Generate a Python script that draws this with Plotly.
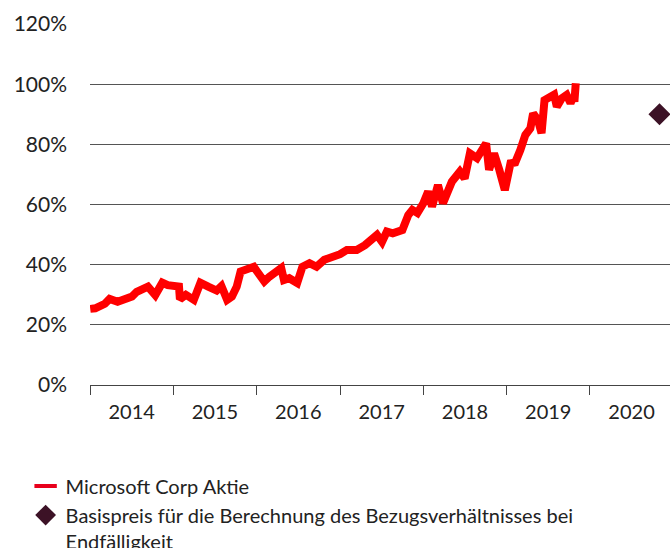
import plotly.graph_objects as go

# Microsoft Corp share price, % of base price
dates = [
    "2014-01-02", "2014-01-24", "2014-03-07", "2014-03-28", "2014-05-02", "2014-06-01",
    "2014-07-04", "2014-07-25", "2014-08-15", "2014-09-12", "2014-10-14", "2014-11-14",
    "2014-12-08", "2015-01-01", "2015-01-26", "2015-01-30", "2015-02-25", "2015-04-01",
    "2015-04-30", "2015-06-03", "2015-07-10", "2015-07-31", "2015-08-25", "2015-09-15",
    "2015-10-06", "2015-10-23", "2015-11-17", "2015-12-20", "2016-01-01", "2016-01-13",
    "2016-02-04", "2016-02-26", "2016-03-18", "2016-04-18", "2016-04-30", "2016-05-23",
    "2016-06-27", "2016-07-20", "2016-08-20", "2016-09-20", "2016-10-24", "2016-11-24",
    "2016-12-16", "2017-01-01", "2017-01-31", "2017-03-15", "2017-04-20", "2017-05-12",
    "2017-06-12", "2017-07-04", "2017-07-25", "2017-08-20", "2017-10-01", "2017-10-27",
    "2017-11-14", "2017-12-06", "2018-01-01", "2018-01-22", "2018-02-08", "2018-03-06",
    "2018-03-28", "2018-05-06", "2018-06-10", "2018-07-01", "2018-07-24", "2018-08-24",
    "2018-10-03", "2018-10-16", "2018-11-07", "2018-11-30", "2018-12-24", "2019-01-18",
    "2019-02-08", "2019-03-02", "2019-03-24", "2019-04-15", "2019-04-27", "2019-05-18",
    "2019-06-03", "2019-06-16", "2019-07-07", "2019-07-28", "2019-08-09", "2019-08-31",
    "2019-09-21", "2019-10-08", "2019-10-20", "2019-10-25", "2019-10-31",
]
msft_pct = [
    25.3, 25.5, 27.0, 28.6, 27.7, 28.3,
    29.4, 31.0, 31.5, 32.7, 29.9, 34.0,
    33.2, 33.2, 32.7, 28.5, 30.0, 28.3,
    34.0, 32.7, 31.4, 32.9, 28.3, 29.4,
    32.7, 37.7, 38.2, 39.3, 38.0, 36.6,
    34.4, 36.0, 37.2, 38.9, 34.9, 35.5,
    33.9, 39.3, 40.5, 39.3, 41.6, 42.3,
    43.2, 43.5, 44.9, 44.9, 46.5, 48.2,
    49.9, 47.6, 51.0, 50.4, 51.5, 56.5,
    58.2, 57.2, 60.4, 64.3, 59.3, 66.5,
    60.4, 67.6, 70.9, 68.7, 77.0, 75.4,
    80.3, 71.5, 77.0, 71.5, 64.8, 73.7,
    74.0, 78.1, 83.1, 85.3, 90.3, 88.1,
    83.7, 94.7, 95.3, 96.5, 92.5, 95.3,
    96.4, 93.7, 95.8, 94.2, 100.3,
]

strike_date = ["2020-11-01"]
strike_pct = [90]

y_ticks = [0, 20, 40, 60, 80, 100, 120]
y_tick_labels = ["0%", "20%", "40%", "60%", "80%", "100%", "120%"]

name_msft = "Microsoft Corp Aktie"
name_strike = "Basispreis für die Berechnung des Bezugsverhältnisses bei<br>Endfälligkeit"

FONT = "Lato"
TXT = "#222222"

fig = go.Figure()
fig.add_trace(go.Scatter(
    x=dates, y=msft_pct, mode="lines",
    line=dict(color="#ff0000", width=8),
    showlegend=False, hoverinfo="skip",
))
fig.add_trace(go.Scatter(
    x=[None], y=[None], mode="markers", name=name_msft,
    marker=dict(symbol="line-ew-open", size=16, color="#e8001c",
                line=dict(color="#e8001c", width=4)),
))
fig.add_trace(go.Scatter(
    x=strike_date, y=strike_pct, mode="markers", name=name_strike,
    marker=dict(symbol="diamond", size=17, color="#3c1226"),
))

fig.update_layout(
    width=670, height=548,
    margin=dict(l=90, r=0, t=24, b=163, autoexpand=False),
    paper_bgcolor="white", plot_bgcolor="white",
    font=dict(family=FONT, color=TXT, size=20),
    legend=dict(
        x=-0.111, y=-0.226, xanchor="left", yanchor="top",
        orientation="v", valign="top",
        font=dict(family=FONT, size=20, color=TXT),
        itemwidth=30, tracegroupgap=0, bgcolor="rgba(0,0,0,0)",
    ),
)
fig.update_xaxes(
    type="date", automargin=False,
    range=["2014-01-01", "2020-12-17"],
    dtick="M12", tick0="2014-01-01", tickformat="%Y",
    ticklabelmode="period",
    ticks="outside", ticklen=9, tickcolor="#444444", tickwidth=1,
    showline=True, linecolor="#444444", linewidth=1,
    showgrid=False, zeroline=False,
    tickfont=dict(family=FONT, size=20, color=TXT),
)
fig.update_yaxes(
    range=[0, 120], automargin=False,
    tickvals=y_ticks, ticktext=y_tick_labels,
    showgrid=True, gridcolor="#555555", gridwidth=1,
    zeroline=False, showline=False, ticks="",
    ticklabelstandoff=22,
    tickfont=dict(family=FONT, size=21, color=TXT),
)

fig.write_html(
    "out.html",
    config={"displayModeBar": False, "staticPlot": True},
    post_script="document.body.style.margin='0';document.body.style.overflow='hidden';",
)
